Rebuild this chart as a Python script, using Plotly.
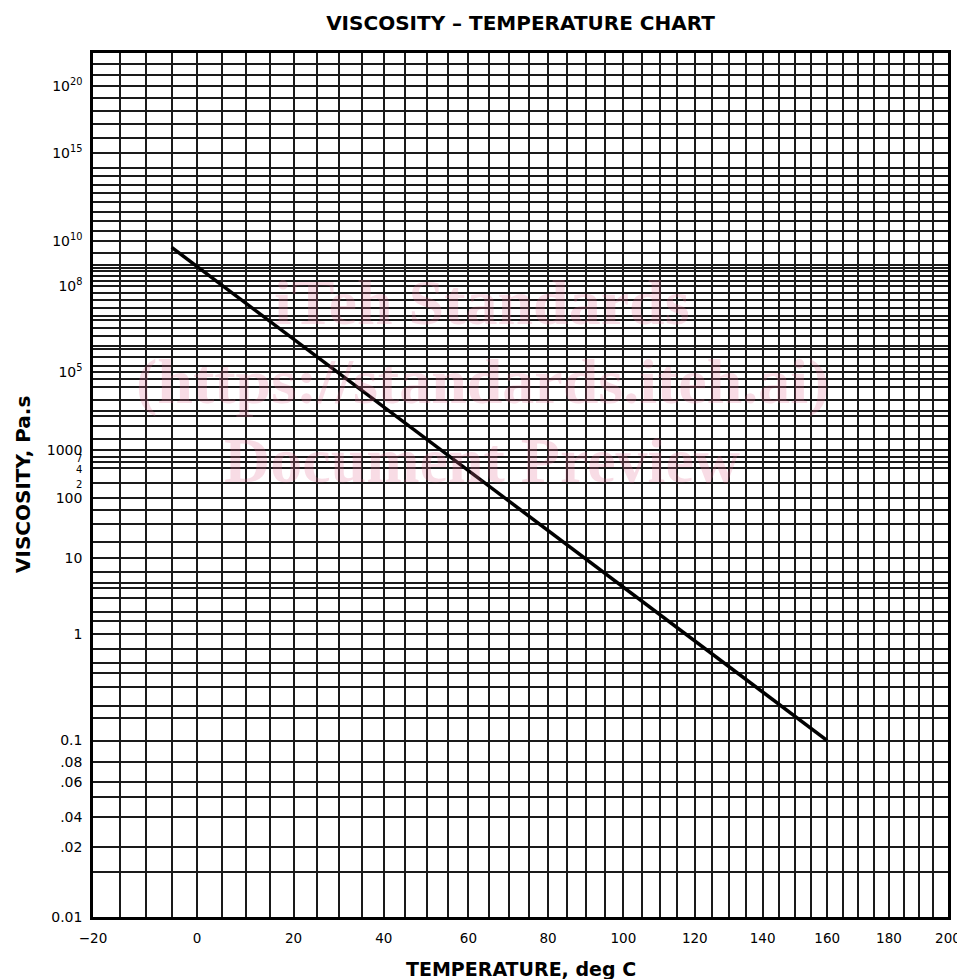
import numpy as np
import plotly.graph_objects as go

# ---------------- data ----------------
TEMPS_C = [-5, 160]            # deg C, ends of the plotted line
VISC_PAS = [5e9, 0.1]          # Pa.s at those temperatures

X_GRID_C = list(range(-20, 201, 5))
X_LABEL_C = list(range(-20, 201, 20))

Y_TICK_VALUES = [0.01, 0.021, 0.0305, 0.0508, 0.0698, 0.1, 1, 10, 100,
                 200, 400, 700, 1000, 1e5, 1e8, 1e10, 1e15, 1e20]
Y_TICK_TEXT = ["0.01", ".02", ".04", ".06", ".08", "0.1", "1", "10", "100",
               "2", "4", "7", "1000", "10<sup>5</sup>", "10<sup>8</sup>",
               "10<sup>10</sup>", "10<sup>15</sup>", "10<sup>20</sup>"]
SMALL_LABELS = ["2", "4", "7"]

# extra horizontal rulings of the chart paper, as log10(viscosity, Pa.s)
GRID_EXPONENTS = [22, 21, 19, 18, 17, 16, 14, 13.5, 13, 12.5, 12, 11.5, 11, 10.5,
                  9.45, 8.9, 8.78, 8.66, 8.43, 8.2, 7.75, 7.46, 7.14, 6.84, 6.72,
                  6.42, 6.14, 5.82, 5.73, 5.48, 5.19, 4.8, 4.57, 4.22, 3.94, 3.79,
                  3.54, 3.25, 2.74, 1.79, 1.54, 1.245, 0.8, 0.638, 0.57, 0.437,
                  0.27, 0.155, -0.165, -0.313, -0.413, -0.541, -0.716, -0.821,
                  -1.39, -1.805]

Y_MIN, Y_MAX = 0.01, 1e23


# ---------------- scales ----------------
def vscale(eta):
    """double-log viscosity ruling of the chart"""
    return np.log10(np.log10(np.asarray(eta, dtype=float)) + 3.1)


def kelvin(t):
    return np.asarray(t, dtype=float) + 273.15


# y ticks (labels + unlabeled rulings)
ytick_pos = list(vscale(Y_TICK_VALUES))
ytick_txt = []
for t in Y_TICK_TEXT:
    if t in SMALL_LABELS:
        ytick_txt.append('<span style="font-size:10px">%s</span>' % t)
    else:
        ytick_txt.append(t)
for e in GRID_EXPONENTS:
    ytick_pos.append(float(vscale(10.0 ** e)))
    ytick_txt.append("")

# x ticks
xtick_pos = list(kelvin(X_GRID_C))
xtick_txt = []
for t in X_GRID_C:
    if t in X_LABEL_C:
        xtick_txt.append(("\u2212%d" % -t) if t < 0 else str(t))
    else:
        xtick_txt.append("")

fig = go.Figure()
fig.add_trace(go.Scatter(
    x=kelvin(TEMPS_C), y=vscale(VISC_PAS), mode="lines",
    line=dict(color="black", width=3.5), showlegend=False, hoverinfo="skip"))

FONT = "DejaVu Sans, Verdana, sans-serif"
GRID_COLOR = "#1a1a1a"

fig.update_layout(
    width=965, height=979,
    margin=dict(l=85, r=14, t=45, b=70),
    paper_bgcolor="white", plot_bgcolor="white",
    font=dict(family=FONT, color="black", size=13),
    title=dict(text="<b>VISCOSITY \u2013 TEMPERATURE CHART</b>",
               x=0.5, xref="paper", y=1 - 15 / 979, yref="container",
               xanchor="center", yanchor="middle",
               font=dict(family=FONT, size=20, color="black")),
    showlegend=False,
)

fig.update_xaxes(
    type="log",
    range=[np.log10(kelvin(-20)), np.log10(kelvin(200))],
    tickmode="array", tickvals=xtick_pos, ticktext=xtick_txt,
    showgrid=True, gridcolor=GRID_COLOR, gridwidth=1.6,
    showline=True, linecolor="black", linewidth=2.5, mirror=True,
    ticks="", ticklabelstandoff=7, zeroline=False,
    tickfont=dict(family=FONT, size=13.5, color="black"),
)
fig.update_yaxes(
    type="linear",
    range=[float(vscale(Y_MIN)), float(vscale(Y_MAX))],
    tickmode="array", tickvals=ytick_pos, ticktext=ytick_txt,
    showgrid=True, gridcolor=GRID_COLOR, gridwidth=1.6,
    showline=True, linecolor="black", linewidth=2.5, mirror=True,
    ticks="", ticklabelstandoff=5, zeroline=False,
    tickfont=dict(family=FONT, size=14, color="black"),
)

# axis titles
fig.add_annotation(text="<b>TEMPERATURE, deg C</b>", xref="paper", yref="paper",
                   x=0.5, y=0, yshift=-52, showarrow=False, yanchor="middle",
                   font=dict(family=FONT, size=19, color="black"))
fig.add_annotation(text="<b>VISCOSITY, Pa.s</b>", xref="paper", yref="paper",
                   x=0, xshift=-70, y=0.5, showarrow=False, textangle=-90,
                   xanchor="center", yanchor="middle",
                   font=dict(family=FONT, size=20, color="black"))

# faint watermark of the source page
WM = "rgba(225, 110, 145, 0.24)"
SERIF = "Liberation Serif, DejaVu Serif, serif"
for txt, yy in [("iTeh Standards", 294), ("(https://standards.iteh.ai)", 374),
                ("Document Preview", 452)]:
    fig.add_annotation(text="<b>%s</b>" % txt, xref="paper", yref="paper",
                       x=0.455, y=1 - (yy - 45) / 864, showarrow=False,
                       xanchor="center", yanchor="middle",
                       font=dict(family=SERIF, size=64, color=WM))

fig.write_html("out.html")
